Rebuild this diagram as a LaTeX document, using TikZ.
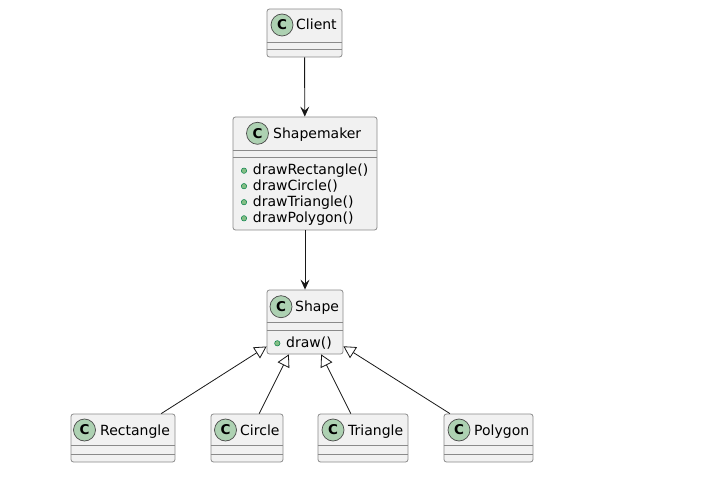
\documentclass[tikz,border=0pt]{standalone}
\usepackage{fontspec}
\setmainfont{DejaVu Sans}
\usetikzlibrary{arrows.meta}
\definecolor{boxfill}{HTML}{F1F1F1}
\definecolor{boxline}{HTML}{8A8A8A}
\definecolor{arrline}{HTML}{181818}
\definecolor{iconline}{HTML}{4A4A4A}
\definecolor{iconfill}{HTML}{ADD1B2}
\definecolor{dotfill}{HTML}{84BE84}
\definecolor{dotline}{HTML}{038048}
\tikzset{
  classbox/.style={draw=boxline, line width=0.8pt, fill=boxfill, rounded corners=2.5pt, inner sep=0pt},
  divider/.style={draw=boxline, line width=0.8pt},
  classicon/.style={circle, draw=iconline, line width=0.7pt, fill=iconfill, minimum size=22pt, inner sep=0pt, font=\fontsize{13.5}{13.5}\selectfont\bfseries},
  lbl/.style={inner sep=0pt, anchor=base west, font=\fontsize{14}{16}\selectfont},
  mdot/.style={circle, draw=dotline, line width=0.5pt, fill=dotfill, minimum size=5.4pt, inner sep=0pt},
  assoc/.style={draw=arrline, line width=0.9pt, -{Stealth[length=10pt, width=9pt, inset=4pt]}},
  inherit/.style={draw=arrline, line width=0.8pt, -{Triangle[length=12pt, width=13pt, fill=white]}},
}
\begin{document}
\begin{tikzpicture}[x=1pt, y=-1pt]
\useasboundingbox[fill=white] (0,0) rectangle (701,478);

% Client
\node[classbox, minimum width=75pt, minimum height=48pt] (client) at (304.5,33) {};
\draw[divider] (client.west |- 0,42) -- (client.east |- 0,42);
\draw[divider] (client.west |- 0,49.3) -- (client.east |- 0,49.3);
\node[classicon] (clientC) at (282,25) {C};
\node[lbl] (clientT) at (296,30) {Client};

% Shapemaker
\node[classbox, minimum width=144pt, minimum height=113pt] (maker) at (305,173.5) {};
\draw[divider] (maker.west |- 0,150) -- (maker.east |- 0,150);
\draw[divider] (maker.west |- 0,157.3) -- (maker.east |- 0,157.3);
\node[classicon] (makerC) at (257.5,133.3) {C};
\node[lbl] (makerT) at (273,138.3) {Shapemaker};
\node[mdot] (m1d) at (244,170.7) {};
\node[lbl] (m1) at (252.7,175) {drawRectangle()};
\node[mdot] (m2d) at (244,186.2) {};
\node[lbl] (m2) at (252.7,190.5) {drawCircle()};
\node[mdot] (m3d) at (244,202.2) {};
\node[lbl] (m3) at (252.7,206.5) {drawTriangle()};
\node[mdot] (m4d) at (244,218.3) {};
\node[lbl] (m4) at (252.7,222.6) {drawPolygon()};

% Shape
\node[classbox, minimum width=76pt, minimum height=64pt] (shape) at (305,322) {};
\draw[divider] (shape.west |- 0,322.3) -- (shape.east |- 0,322.3);
\draw[divider] (shape.west |- 0,330.7) -- (shape.east |- 0,330.7);
\node[classicon] (shapeC) at (281,306.7) {C};
\node[lbl] (shapeT) at (295,311.7) {Shape};
\node[mdot] (sd) at (277.3,343.3) {};
\node[lbl] (s1) at (286,347) {draw()};

% Rectangle
\node[classbox, minimum width=104pt, minimum height=48pt] (rect) at (123,438) {};
\draw[divider] (rect.west |- 0,445.7) -- (rect.east |- 0,445.7);
\draw[divider] (rect.west |- 0,454) -- (rect.east |- 0,454);
\node[classicon] (rectC) at (84.5,430) {C};
\node[lbl] (rectT) at (100,435) {Rectangle};

% Circle
\node[classbox, minimum width=72pt, minimum height=48pt] (circ) at (247,438) {};
\draw[divider] (circ.west |- 0,445.7) -- (circ.east |- 0,445.7);
\draw[divider] (circ.west |- 0,454) -- (circ.east |- 0,454);
\node[classicon] (circC) at (225.5,430) {C};
\node[lbl] (circT) at (240,435) {Circle};

% Triangle
\node[classbox, minimum width=90pt, minimum height=48pt] (tri) at (363,438) {};
\draw[divider] (tri.west |- 0,445.7) -- (tri.east |- 0,445.7);
\draw[divider] (tri.west |- 0,454) -- (tri.east |- 0,454);
\node[classicon] (triC) at (333,430) {C};
\node[lbl] (triT) at (348,435) {Triangle};

% Polygon
\node[classbox, minimum width=89pt, minimum height=48pt] (poly) at (488.5,438) {};
\draw[divider] (poly.west |- 0,445.7) -- (poly.east |- 0,445.7);
\draw[divider] (poly.west |- 0,454) -- (poly.east |- 0,454);
\node[classicon] (polyC) at (459,430) {C};
\node[lbl] (polyT) at (474,435) {Polygon};

% Connectors
\draw[assoc] (client) -- (maker);
\draw[assoc] (maker) -- (shape);
\draw[inherit] (rect) -- (shape);
\draw[inherit] (circ) -- (shape);
\draw[inherit] (tri) -- (shape);
\draw[inherit] (poly) -- (shape);
\end{tikzpicture}
\end{document}
